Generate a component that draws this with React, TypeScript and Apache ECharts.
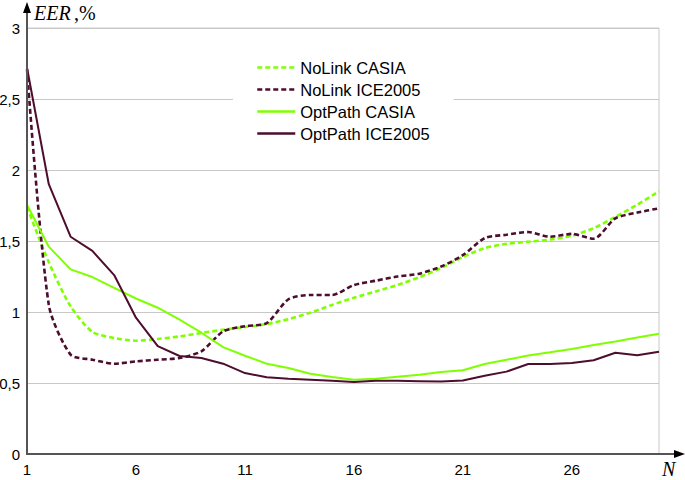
import React, { useEffect, useRef } from "react";
import * as echarts from "echarts";

const categories = Array.from({ length: 30 }, (_, i) => String(i + 1));

const noLinkCasia = [1.74, 1.35, 1.04, 0.86, 0.817, 0.798, 0.81, 0.828, 0.852, 0.875, 0.894, 0.915, 0.95, 0.995, 1.05, 1.1, 1.145, 1.19, 1.245, 1.31, 1.387, 1.45, 1.48, 1.495, 1.51, 1.537, 1.59, 1.67, 1.755, 1.85];
const noLinkIce = [2.71, 1.05, 0.7, 0.664, 0.636, 0.652, 0.664, 0.676, 0.723, 0.863, 0.9, 0.922, 1.09, 1.12, 1.12, 1.19, 1.22, 1.25, 1.27, 1.32, 1.4, 1.52, 1.544, 1.563, 1.53, 1.55, 1.516, 1.66, 1.7, 1.73];
const optPathCasia = [1.755, 1.46, 1.3, 1.246, 1.17, 1.095, 1.03, 0.946, 0.854, 0.753, 0.692, 0.636, 0.605, 0.565, 0.542, 0.523, 0.53, 0.544, 0.558, 0.577, 0.59, 0.634, 0.664, 0.694, 0.716, 0.739, 0.768, 0.793, 0.821, 0.847];
const optPathIce = [2.72, 1.9, 1.53, 1.43, 1.26, 0.96, 0.76, 0.69, 0.676, 0.636, 0.57, 0.54, 0.53, 0.523, 0.516, 0.507, 0.516, 0.516, 0.513, 0.51, 0.518, 0.551, 0.58, 0.634, 0.634, 0.641, 0.66, 0.713, 0.695, 0.72];

const seriesNames = ["NoLink CASIA", "NoLink ICE2005", "OptPath CASIA", "OptPath ICE2005"];

const GREEN = "#7fff00";
const DARK = "#4d0d2d";

export default function App() {
  const ref = useRef<HTMLDivElement>(null);
  useEffect(() => {
    if (!ref.current) return;
    const chart = echarts.init(ref.current, undefined, { renderer: "svg" });
    const axisColor = "#555555";
    const mk = (name: string, data: number[], color: string, dashed: boolean) => ({
      name,
      type: "line",
      data,
      symbol: "none",
      showSymbol: false,
      smooth: dashed ? 0.25 : false,
      lineStyle: { color, width: dashed ? 2.6 : 2, type: dashed ? [5, 3] : "solid" },
      itemStyle: { color },
    });
    chart.setOption({
      animation: false,
      backgroundColor: "#ffffff",
      grid: {
        left: 27,
        right: 26,
        top: 28,
        bottom: 26,
        containLabel: false,
        outerBoundsMode: "none",
        show: true,
        borderColor: "#c8c8c8",
        borderWidth: 1,
      },
      legend: {
        orient: "vertical",
        left: 233,
        top: 46,
        backgroundColor: "#ffffff",
        padding: [13, 24, 13, 23],
        itemWidth: 38,
        itemHeight: 14,
        itemGap: 5,
        data: seriesNames,
        itemStyle: { opacity: 0 },
        lineStyle: { width: 2.5 },
        textStyle: {
          fontFamily: "Liberation Sans",
          fontSize: 16.5,
          color: "#000000",
          lineHeight: 16,
        },
      },
      xAxis: {
        type: "category",
        data: categories,
        boundaryGap: false,
        axisLine: { show: false },
        axisTick: { show: false },
        splitLine: { show: false },
        axisLabel: {
          interval: 4,
          margin: 8,
          alignMinLabel: "center",
          fontFamily: "Liberation Sans",
          fontSize: 15,
          color: "#000000",
        },
      },
      yAxis: {
        type: "value",
        min: 0,
        max: 3,
        interval: 0.5,
        axisLine: { show: false },
        axisTick: { show: false },
        splitLine: { show: true, lineStyle: { color: "#c8c8c8", width: 1 } },
        axisLabel: {
          margin: 7,
          fontFamily: "Liberation Sans",
          fontSize: 15,
          color: "#000000",
          formatter: (v: number) => String(v).replace(".", ","),
        },
      },
      series: [
        mk(seriesNames[0], noLinkCasia, GREEN, true),
        mk(seriesNames[1], noLinkIce, DARK, true),
        mk(seriesNames[2], optPathCasia, GREEN, false),
        mk(seriesNames[3], optPathIce, DARK, false),
      ],
      graphic: [
        { type: "line", shape: { x1: 27, y1: 455, x2: 27, y2: 12 }, style: { stroke: axisColor, lineWidth: 2 }, z: 100 },
        { type: "polygon", shape: { points: [[27, 2], [23, 13], [31, 13]] }, style: { fill: "#000000" }, z: 100 },
        { type: "line", shape: { x1: 26, y1: 454, x2: 675, y2: 454 }, style: { stroke: axisColor, lineWidth: 2 }, z: 100 },
        { type: "polygon", shape: { points: [[685, 454], [674, 450], [674, 458]] }, style: { fill: "#000000" }, z: 100 },
        {
          type: "text",
          left: 34,
          top: 3,
          style: {
            text: "{i|EER} {n|,%}",
            rich: {
              i: { fontFamily: "Liberation Serif", fontStyle: "italic", fontSize: 20, fill: "#000" },
              n: { fontFamily: "Liberation Serif", fontSize: 20, fill: "#000" },
            },
          },
          z: 100,
        },
        {
          type: "text",
          left: 662,
          top: 459,
          style: { text: "N", fontFamily: "Liberation Serif", fontStyle: "italic", fontSize: 20, fill: "#000" },
          z: 100,
        },
      ],
    });
    return () => chart.dispose();
  }, []);
  return (
    <div
      ref={ref}
      style={{ position: "fixed", left: 0, top: 0, width: 685, height: 480, background: "#fff" }}
    />
  );
}
